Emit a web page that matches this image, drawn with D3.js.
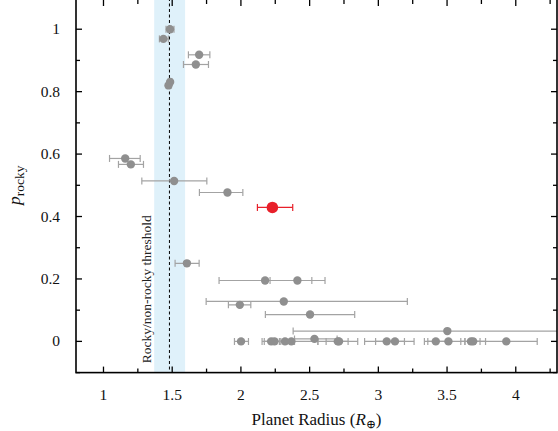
<!DOCTYPE html>
<html><head><meta charset="utf-8">
<script src="https://cdn.jsdelivr.net/npm/d3@7"></script>
<style>
html,body{margin:0;padding:0;background:#fff;}
svg{display:block;font-family:"Liberation Serif","DejaVu Serif",serif;}
</style></head>
<body><svg id="c" width="558" height="431"></svg>
<script>
// Data
const radius   = [1.484,1.436,1.696,1.672,1.485,1.473,1.158,1.199,1.514,1.902,1.607,2.176,2.411,2.312,1.992,2.503,3.502,
                  2.001,2.220,2.244,2.321,2.367,2.535,2.705,2.714,3.061,3.121,3.418,3.510,3.674,3.690,3.931];
const radiusLo = [1.455,1.407,1.618,1.582,1.470,1.460,1.044,1.109,1.279,1.698,1.521,1.841,2.212,1.747,1.909,2.178,2.380,
                  1.953,2.154,2.170,2.260,2.280,2.390,2.560,2.620,2.900,2.980,3.335,3.360,3.630,3.600,3.705];
const radiusHi = [1.513,1.472,1.774,1.764,1.500,1.490,1.267,1.291,1.752,2.014,1.696,2.516,2.612,3.211,2.072,2.828,4.620,
                  2.055,2.290,2.320,2.390,2.560,2.700,2.850,2.780,3.190,3.260,3.500,3.630,3.740,3.780,4.156];
const pRocky   = [1.000,0.969,0.918,0.887,0.831,0.820,0.586,0.567,0.514,0.477,0.250,0.195,0.195,0.128,0.117,0.086,0.033,
                  0,0,0,0,0,0.008,0,0,0,0,0,0,0,0,0];
// highlighted planet
const hlRadius = [2.229], hlLo = [2.120], hlHi = [2.377], hlP = [0.429];
// threshold
const threshold = 1.48, thresholdLo = 1.369, thresholdHi = 1.594;
const xMajor = [1,1.5,2,2.5,3,3.5,4];
const yMajor = [0,0.2,0.4,0.6,0.8,1];

const W=558,H=431, m={l:76,r:1,t:-2,b:58.4};
const svg=d3.select("#c");
const x=d3.scaleLinear().domain([0.8,4.3]).range([m.l,W-m.r]);
const y=d3.scaleLinear().domain([-0.1,1.1]).range([H-m.b,m.t]);

svg.append("defs").append("clipPath").attr("id","clip").append("rect")
  .attr("x",m.l).attr("y",m.t).attr("width",W-m.r-m.l).attr("height",H-m.b-m.t);

const g=svg.append("g").attr("clip-path","url(#clip)");
g.append("rect").attr("x",x(thresholdLo)).attr("width",x(thresholdHi)-x(thresholdLo))
  .attr("y",m.t).attr("height",H-m.b-m.t).attr("fill","#dff1fa");
g.append("line").attr("x1",x(threshold)).attr("x2",x(threshold)).attr("y1",m.t).attr("y2",H-m.b)
  .attr("stroke","#000").attr("stroke-width",1).attr("stroke-dasharray","3,2.5");

g.append("text").attr("transform",`translate(${x(threshold)-18},${y(-0.07)}) rotate(-90)`)
  .attr("font-size",13.5).attr("fill","#222").text("Rocky/non-rocky threshold");

function errbars(sel, xs, lo, hi, ps, col){
  const d=xs.map((v,i)=>({x:v,lo:lo[i],hi:hi[i],p:ps[i]}));
  const e=sel.append("g").attr("stroke",col).attr("stroke-width",1.2).attr("fill","none");
  e.selectAll(".h").data(d).join("line").attr("x1",k=>x(k.lo)).attr("x2",k=>x(k.hi)).attr("y1",k=>y(k.p)).attr("y2",k=>y(k.p));
  e.selectAll(".l").data(d).join("line").attr("class","l").attr("x1",k=>x(k.lo)).attr("x2",k=>x(k.lo)).attr("y1",k=>y(k.p)-3.5).attr("y2",k=>y(k.p)+3.5);
  e.selectAll(".r").data(d).join("line").attr("class","r").attr("x1",k=>x(k.hi)).attr("x2",k=>x(k.hi)).attr("y1",k=>y(k.p)-3.5).attr("y2",k=>y(k.p)+3.5);
  return d;
}
const d1=errbars(g,radius,radiusLo,radiusHi,pRocky,"#a3a3a3");
g.selectAll(".pt").data(d1).join("circle").attr("cx",k=>x(k.x)).attr("cy",k=>y(k.p)).attr("r",4.2).attr("fill","#8f8f8f");
const d2=errbars(g,hlRadius,hlLo,hlHi,hlP,"#e8202a");
g.selectAll(".hp").data(d2).join("circle").attr("cx",k=>x(k.x)).attr("cy",k=>y(k.p)).attr("r",5.8).attr("fill","#e8202a");

// axes
const xMinor=d3.range(0.75,4.31,0.25).filter(v=>v>=0.8);
const yMinor=d3.range(-0.1,1.11,0.1).map(v=>+v.toFixed(2));
const ax=svg.append("g").attr("stroke","#000");
const x0=m.l,x1=W-m.r,y0=H-m.b,y1=m.t;
ax.append("rect").attr("x",x0).attr("y",y1).attr("width",x1-x0).attr("height",y0-y1).attr("fill","none").attr("stroke-width",1.6);
xMinor.forEach(v=>{
  const len = xMajor.some(M=>Math.abs(M-v)<1e-6)?6:4;
  ax.append("line").attr("x1",x(v)).attr("x2",x(v)).attr("y1",y0).attr("y2",y0-len).attr("stroke-width",1.3);
  ax.append("line").attr("x1",x(v)).attr("x2",x(v)).attr("y1",y1).attr("y2",y1+len+2).attr("stroke-width",1.3);
});
yMinor.forEach(v=>{
  const len = yMajor.some(M=>Math.abs(M-v)<1e-6)?6:4;
  ax.append("line").attr("x1",x0).attr("x2",x0+len).attr("y1",y(v)).attr("y2",y(v)).attr("stroke-width",1.3);
  ax.append("line").attr("x1",x1).attr("x2",x1-len).attr("y1",y(v)).attr("y2",y(v)).attr("stroke-width",1.3);
});
const fmt=d3.format("~g");
svg.append("g").selectAll("text").data(xMajor).join("text")
  .attr("x",d=>x(d)).attr("y",y0+27).attr("text-anchor","middle").attr("font-size",15.5).attr("fill","#111").text(fmt);
svg.append("g").selectAll("text").data(yMajor).join("text")
  .attr("x",x0-16).attr("y",d=>y(d)+5).attr("text-anchor","end").attr("font-size",15.5).attr("fill","#111").text(fmt);

const xl=svg.append("text").attr("x",(x0+x1)/2).attr("y",425).attr("text-anchor","middle").attr("font-size",17).attr("fill","#111");
xl.append("tspan").text("Planet Radius (");
xl.append("tspan").attr("font-style","italic").text("R");
xl.append("tspan").attr("font-size",12).attr("dy",3).text("⊕");
xl.append("tspan").attr("dy",-3).text(")");

const yl=svg.append("text").attr("transform",`translate(20,${(y0+y1)/2}) rotate(-90)`).attr("text-anchor","middle").attr("font-size",17.5).attr("fill","#111");
yl.append("tspan").attr("font-style","italic").text("p");
yl.append("tspan").attr("font-size",13.5).attr("dy",4).text("rocky");
</script></body></html>
